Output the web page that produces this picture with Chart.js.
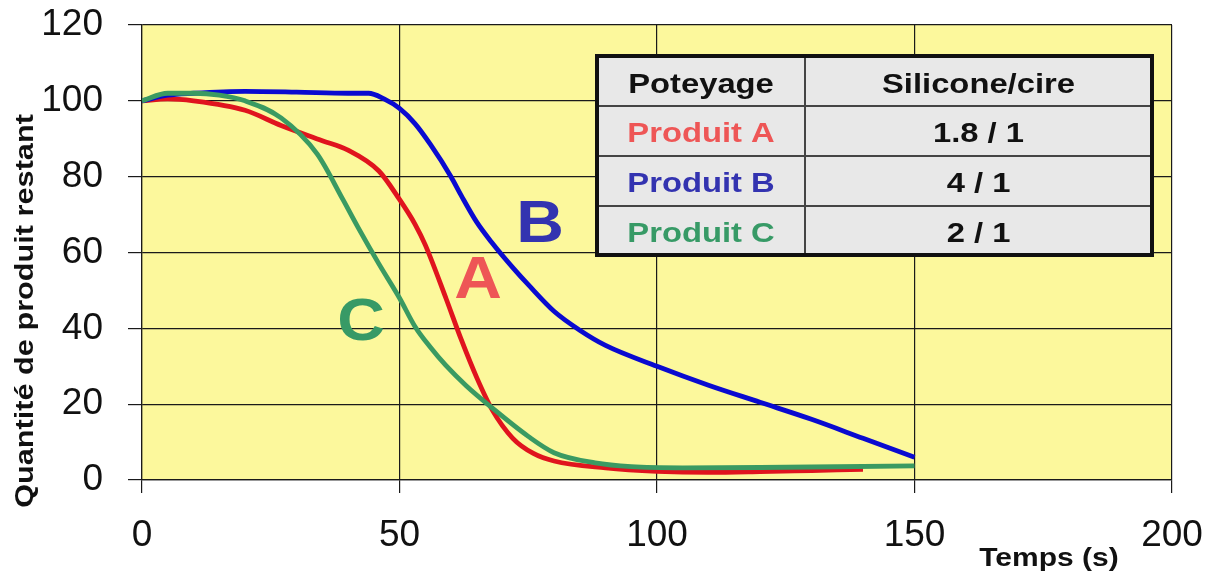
<!DOCTYPE html>
<html>
<head>
<meta charset="utf-8">
<script src="https://cdn.jsdelivr.net/npm/chart.js@4.4.1/dist/chart.umd.min.js"></script>
<style>
  body { margin: 0; background: #fff; }
  #wrap { width: 1220px; height: 583px; }
</style>
</head>
<body>
<div id="wrap"><canvas id="lineChart" width="1220" height="583"></canvas></div>
<script>
// temps (s) et quantité restante
var tempsA = [0, 5, 10, 20, 27, 35, 40, 46, 50, 53, 55, 59, 62, 65, 68, 72, 76, 80, 90, 100, 110, 120, 130, 140];
var produitA = [100, 100.5, 100, 97.5, 93.5, 89.5, 87, 81.5, 74, 67.5, 62, 48, 37, 27, 18.5, 11, 7, 5, 3.2, 2.3, 2, 2.2, 2.5, 2.8];

var tempsB = [0, 5, 10, 20, 30, 40, 44, 47, 50, 53, 56, 60, 62, 65, 68, 72, 75, 80, 85, 90, 100, 110, 120, 130, 140, 150];
var produitB = [100, 101.5, 102, 102.5, 102.3, 102, 102, 100.5, 98, 94, 88.5, 80, 75, 68, 62.5, 56, 51.5, 44.5, 39.5, 35.5, 30, 25, 20.5, 16, 11, 6];

var tempsC = [0, 5, 10, 15, 20, 27, 34, 39, 42, 46, 50, 53, 56, 59, 63, 68, 75, 80, 88, 95, 105, 120, 135, 150];
var produitC = [100, 102, 102, 101.5, 100, 95.5, 86, 74, 66.5, 57, 48, 40.5, 35, 30.2, 24.8, 19, 11.5, 7.2, 4.5, 3.5, 3.2, 3.3, 3.5, 3.7];

var xTicks = [0, 50, 100, 150, 200];
var yTicks = [0, 20, 40, 60, 80, 100, 120];

var tableHead = ['Poteyage', 'Silicone/cire'];
var tableNames = ['Produit A', 'Produit B', 'Produit C'];
var tableRatios = ['1.8 / 1', '4 / 1', '2 / 1'];

function points(xs, ys) {
  return xs.map(function (x, i) { return { x: x, y: ys[i] }; });
}

function txt(ctx, s, x, y, font, color, sx, rot) {
  ctx.save();
  ctx.translate(x, y);
  if (rot) ctx.rotate(rot);
  ctx.scale(sx, 1);
  ctx.font = font;
  ctx.fillStyle = color;
  ctx.textAlign = 'center';
  ctx.textBaseline = 'alphabetic';
  ctx.fillText(s, 0, 0);
  ctx.restore();
}

var fam = "'Liberation Sans', Arial, sans-serif";

var decor = {
  id: 'decor',
  beforeDraw: function (c) {
    var a = c.chartArea, ctx = c.ctx;
    ctx.save();
    ctx.fillStyle = '#fcf89c';
    ctx.fillRect(a.left, a.top, a.right - a.left, a.bottom - a.top);
    ctx.restore();
  },
  afterDraw: function (c) {
    var ctx = c.ctx;
    // titres d'axes
    txt(ctx, 'Quantité de produit restant', 33, 311, 'bold 26px ' + fam, '#111', 1.18, -Math.PI / 2);
    txt(ctx, 'Temps (s)', 1049, 566, 'bold 25px ' + fam, '#111', 1.2);

    // lettres
    txt(ctx, 'B', 540, 242, 'bold 60px ' + fam, '#3333b0', 1.1);
    txt(ctx, 'A', 478, 298, 'bold 60px ' + fam, '#ee5656', 1.1);
    txt(ctx, 'C', 361, 340, 'bold 60px ' + fam, '#379a66', 1.1);

    // tableau
    var L = 597, M = 805, R = 1152, T = 56, B = 255;
    var rows = [T, 106, 156, 206, B];
    ctx.save();
    ctx.fillStyle = '#e8e8e8';
    ctx.fillRect(L, T, R - L, B - T);
    ctx.strokeStyle = '#444';
    ctx.lineWidth = 2;
    for (var i = 1; i < 4; i++) {
      ctx.beginPath(); ctx.moveTo(L, rows[i]); ctx.lineTo(R, rows[i]); ctx.stroke();
    }
    ctx.beginPath(); ctx.moveTo(M, T); ctx.lineTo(M, B); ctx.stroke();
    ctx.strokeStyle = '#111';
    ctx.lineWidth = 4;
    ctx.strokeRect(L, T, R - L, B - T);
    ctx.restore();

    var base = [93, 142, 192, 242];
    var colors = ['#ee5656', '#3333b0', '#379a66'];
    var f = 'bold 28px ' + fam;
    txt(ctx, tableHead[0], (L + M) / 2, base[0], f, '#111', 1.17);
    txt(ctx, tableHead[1], (M + R) / 2, base[0], f, '#111', 1.17);
    for (var j = 0; j < 3; j++) {
      txt(ctx, tableNames[j], (L + M) / 2, base[j + 1], f, colors[j], 1.17);
      txt(ctx, tableRatios[j], (M + R) / 2, base[j + 1], f, '#111', 1.17);
    }
  }
};

var chart = document.getElementById('lineChart');

new Chart(chart, {
  type: 'line',
  data: {
    datasets: [{
      label: 'Produit C',
      data: points(tempsC, produitC),
      borderColor: '#3a9a62',
      borderWidth: 4.8,
      order: 0
    }, {
      label: 'Produit B',
      data: points(tempsB, produitB),
      borderColor: '#0a0ad0',
      borderWidth: 4.8,
      order: 1
    }, {
      label: 'Produit A',
      data: points(tempsA, produitA),
      borderColor: '#e0141e',
      borderWidth: 4.8,
      order: 2
    }]
  },
  options: {
    responsive: false,
    animation: false,
    layout: { padding: { top: 25, right: 48, left: 0, bottom: 0 } },
    elements: {
      point: { radius: 0 },
      line: { cubicInterpolationMode: 'monotone', fill: false }
    },
    plugins: {
      legend: { display: false },
      tooltip: { enabled: false }
    },
    scales: {
      x: {
        type: 'linear',
        min: xTicks[0],
        max: xTicks[xTicks.length - 1],
        afterFit: function (s) { s.height = 103; s.paddingLeft = 0; s.paddingRight = 0; },
        afterBuildTicks: function (s) { s.ticks = xTicks.map(function (v) { return { value: v }; }); },
        grid: { color: '#1a1a1a', lineWidth: 1.2, tickLength: 13 },
        border: { color: '#1a1a1a', width: 1.2 },
        ticks: { color: '#111', padding: 21, maxRotation: 0, font: { family: fam, size: 37 } }
      },
      y: {
        min: yTicks[0],
        max: yTicks[yTicks.length - 1],
        afterFit: function (s) { s.width = 142; s.paddingTop = 0; s.paddingBottom = 0; },
        afterBuildTicks: function (s) { s.ticks = yTicks.map(function (v) { return { value: v }; }); },
        grid: { color: '#1a1a1a', lineWidth: 1.2, tickLength: 14 },
        border: { color: '#1a1a1a', width: 1.2 },
        ticks: { color: '#111', padding: 25, font: { family: fam, size: 37 } }
      }
    }
  },
  plugins: [decor]
});
</script>
</body>
</html>
